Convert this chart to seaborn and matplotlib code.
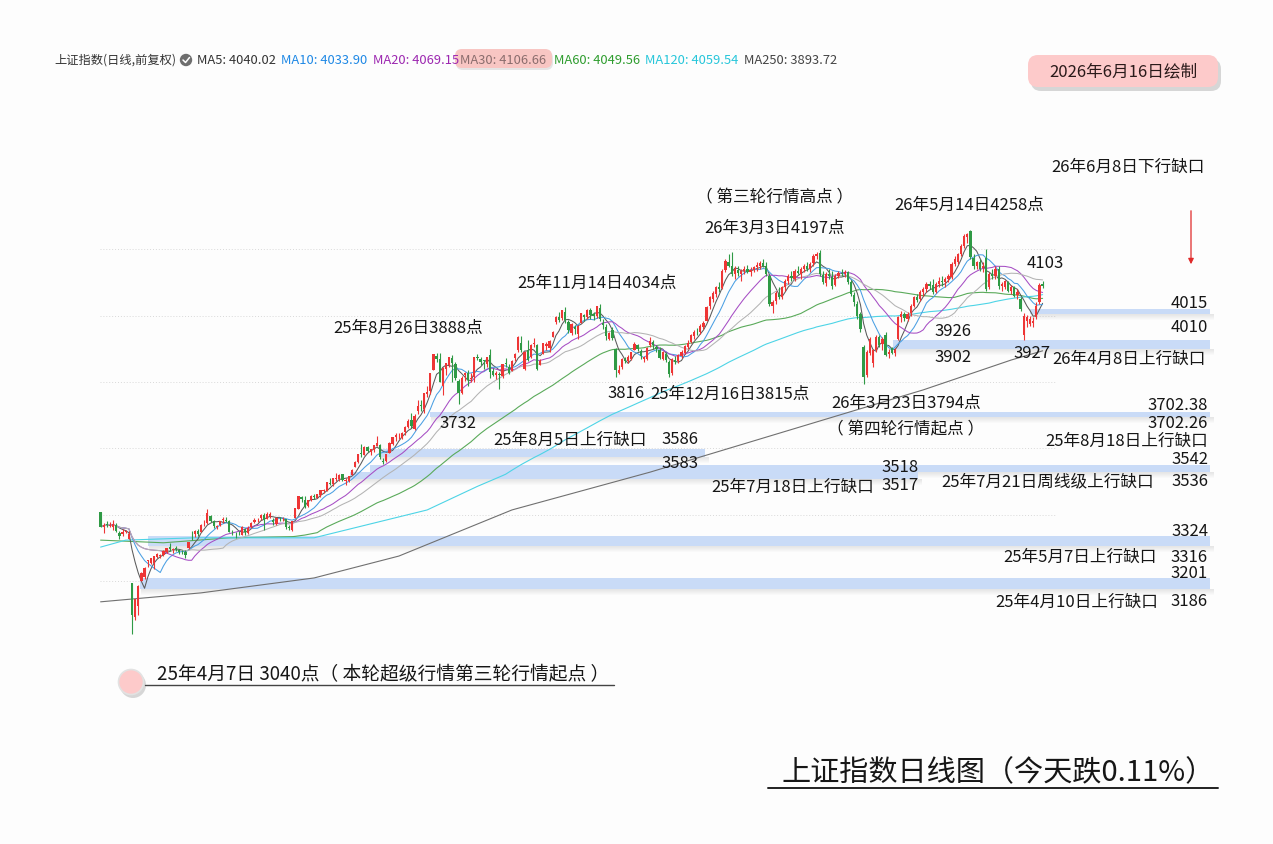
import numpy as np
import pandas as pd
import matplotlib
matplotlib.use("Agg")
import matplotlib.pyplot as plt
import seaborn as sns
from matplotlib.patches import FancyBboxPatch, Rectangle, Circle, FancyArrowPatch
from matplotlib.lines import Line2D
from matplotlib.transforms import Affine2D

# ------------------------------------------------------------------ data
# daily candles, first candle = 2025-03-21 (day -10), day 0 = 2025-04-07, last = 2026-06-16
first_day = -10
opens = [
    3407, 3364, 3372, 3367, 3364, 3370, 3345, 3340, 3347, 3325,
    3193, 3091, 3124, 3201, 3213, 3261, 3254, 3255, 3271, 3276,
    3278, 3286, 3302, 3292, 3298, 3292, 3288, 3287, 3300, 3345,
    3340, 3350, 3348, 3374, 3375, 3397, 3381, 3363, 3369, 3383,
    3385, 3381, 3347, 3342, 3341, 3339, 3357, 3345, 3362, 3377,
    3383, 3390, 3400, 3386, 3397, 3385, 3372, 3388, 3386, 3387,
    3363, 3353, 3390, 3418, 3452, 3444, 3425, 3443, 3456, 3451,
    3459, 3470, 3471, 3496, 3492, 3508, 3506, 3521, 3501, 3500,
    3518, 3542, 3560, 3586, 3581, 3604, 3590, 3596, 3608, 3609,
    3562, 3562, 3586, 3613, 3635, 3634, 3632, 3648, 3664, 3684,
    3657, 3712, 3729, 3718, 3764, 3773, 3835, 3877, 3869, 3787,
    3838, 3850, 3871, 3853, 3803, 3766, 3821, 3827, 3810, 3815,
    3875, 3869, 3866, 3853, 3881, 3832, 3821, 3825, 3817, 3858,
    3846, 3834, 3871, 3897, 3916, 3838, 3897, 3874, 3915, 3912,
    3852, 3883, 3909, 3903, 3935, 3980, 3996, 3993, 4012, 3981,
    3947, 3965, 3945, 3977, 4002, 3995, 4018, 4004, 4000, 4022,
    3979, 3967, 3930, 3957, 3900, 3827, 3844, 3868, 3862, 3870,
    3896, 3910, 3892, 3870, 3870, 3910, 3920, 3905, 3895, 3870,
    3885, 3860, 3826, 3866, 3862, 3878, 3888, 3906, 3920, 3938,
    3948, 3950, 3966, 3985, 4028, 4050, 4066, 4085, 4082, 4138,
    4160, 4150, 4125, 4138, 4125, 4135, 4140, 4130, 4136, 4145,
    4150, 4158, 4148, 4120, 4030, 4045, 4065, 4055, 4085, 4105,
    4118, 4110, 4135, 4125, 4140, 4148, 4140, 4158, 4180, 4190,
    4122, 4098, 4125, 4115, 4092, 4120, 4128, 4125, 4130, 4100,
    4062, 4035, 4005, 3905, 3822, 3888, 3858, 3896, 3935, 3915,
    3940, 3885, 3902, 3886, 3930, 3995, 4005, 3990, 4008, 4030,
    4055, 4050, 4072, 4080, 4095, 4092, 4072, 4095, 4105, 4100,
    4110, 4115, 4155, 4160, 4185, 4210, 4238, 4255, 4175, 4148,
    4160, 4142, 4175, 4085, 4125, 4118, 4140, 4090, 4085, 4100,
    4075, 4085, 4062, 4050, 3940, 3985, 3975, 3978, 3995, 4040, 4095,
]
highs = [
    3409, 3375, 3380, 3378, 3383, 3374, 3350, 3357, 3355, 3352,
    3193, 3146, 3187, 3226, 3242, 3264, 3270, 3276, 3285, 3282,
    3292, 3300, 3315, 3300, 3305, 3296, 3294, 3292, 3316, 3352,
    3354, 3358, 3371, 3384, 3417, 3400, 3385, 3370, 3382, 3392,
    3392, 3385, 3353, 3346, 3350, 3365, 3361, 3365, 3377, 3390,
    3389, 3403, 3404, 3408, 3407, 3391, 3392, 3392, 3393, 3388,
    3369, 3382, 3421, 3455, 3455, 3457, 3444, 3458, 3461, 3463,
    3475, 3476, 3497, 3509, 3511, 3525, 3522, 3522, 3510, 3517,
    3538, 3561, 3582, 3613, 3606, 3607, 3599, 3609, 3636, 3612,
    3571, 3584, 3618, 3634, 3646, 3645, 3648, 3668, 3688, 3705,
    3702, 3746, 3745, 3766, 3787, 3826, 3884, 3888, 3888, 3845,
    3858, 3876, 3880, 3861, 3810, 3818, 3829, 3835, 3828, 3876,
    3884, 3874, 3867, 3876, 3899, 3843, 3832, 3830, 3855, 3873,
    3853, 3866, 3888, 3937, 3937, 3894, 3926, 3914, 3931, 3913,
    3869, 3917, 3919, 3925, 3952, 3999, 4010, 4016, 4025, 3986,
    3977, 3971, 3973, 4009, 4005, 4019, 4022, 4010, 4030, 4034,
    3990, 3975, 3950, 3966, 3902, 3850, 3872, 3875, 3880, 3890,
    3920, 3915, 3898, 3878, 3905, 3936, 3925, 3912, 3905, 3892,
    3890, 3866, 3872, 3878, 3885, 3895, 3912, 3925, 3945, 3955,
    3962, 3975, 3985, 4030, 4060, 4075, 4090, 4100, 4140, 4172,
    4185, 4192, 4150, 4150, 4140, 4148, 4152, 4145, 4150, 4160,
    4165, 4170, 4160, 4125, 4048, 4075, 4085, 4090, 4110, 4125,
    4135, 4140, 4150, 4145, 4155, 4162, 4160, 4185, 4192, 4197,
    4135, 4130, 4140, 4135, 4125, 4135, 4140, 4138, 4135, 4108,
    4070, 4045, 4010, 3910, 3895, 3935, 3900, 3940, 3942, 3935,
    3950, 3900, 3905, 3902, 4000, 4015, 4012, 4010, 4035, 4060,
    4065, 4078, 4085, 4100, 4105, 4110, 4100, 4115, 4120, 4115,
    4125, 4160, 4180, 4190, 4215, 4245, 4250, 4258, 4185, 4165,
    4170, 4160, 4200, 4130, 4140, 4150, 4148, 4100, 4108, 4105,
    4092, 4090, 4080, 4055, 4008, 4002, 3998, 3995, 4040, 4098, 4103,
]
lows = [
    3362, 3343, 3364, 3362, 3355, 3347, 3325, 3336, 3343, 3325,
    3040, 3083, 3098, 3201, 3205, 3243, 3250, 3235, 3270, 3268,
    3275, 3285, 3290, 3285, 3290, 3280, 3282, 3270, 3296, 3324,
    3333, 3336, 3348, 3365, 3371, 3377, 3360, 3356, 3365, 3375,
    3377, 3347, 3339, 3330, 3337, 3338, 3339, 3342, 3360, 3375,
    3377, 3385, 3354, 3386, 3391, 3369, 3370, 3380, 3380, 3357,
    3355, 3350, 3390, 3418, 3437, 3420, 3422, 3440, 3447, 3449,
    3453, 3464, 3471, 3490, 3486, 3501, 3502, 3500, 3488, 3499,
    3518, 3542, 3555, 3575, 3581, 3590, 3581, 3589, 3606, 3567,
    3553, 3558, 3586, 3611, 3622, 3629, 3627, 3639, 3660, 3660,
    3655, 3703, 3713, 3706, 3756, 3763, 3835, 3859, 3800, 3761,
    3822, 3845, 3800, 3806, 3733, 3765, 3802, 3789, 3800, 3800,
    3865, 3850, 3840, 3845, 3812, 3818, 3810, 3779, 3812, 3846,
    3825, 3832, 3862, 3891, 3890, 3835, 3862, 3873, 3905, 3837,
    3852, 3883, 3897, 3890, 3935, 3976, 3981, 3987, 3979, 3948,
    3940, 3945, 3928, 3977, 3985, 3990, 3990, 3987, 3993, 3985,
    3960, 3925, 3925, 3925, 3816, 3825, 3840, 3856, 3856, 3866,
    3895, 3894, 3870, 3860, 3866, 3905, 3900, 3890, 3870, 3866,
    3860, 3815, 3820, 3855, 3858, 3872, 3885, 3900, 3916, 3930,
    3940, 3945, 3960, 3983, 4020, 4040, 4055, 4072, 4080, 4130,
    4145, 4118, 4110, 4120, 4105, 4125, 4128, 4120, 4130, 4135,
    4140, 4145, 4120, 4030, 4008, 4035, 4050, 4050, 4075, 4095,
    4105, 4105, 4125, 4110, 4130, 4135, 4132, 4150, 4170, 4118,
    4095, 4090, 4110, 4080, 4088, 4112, 4118, 4115, 4095, 4060,
    4030, 3990, 3950, 3794, 3815, 3880, 3845, 3890, 3905, 3895,
    3878, 3872, 3885, 3878, 3926, 3980, 3985, 3985, 4000, 4025,
    4040, 4045, 4060, 4070, 4080, 4065, 4068, 4085, 4090, 4085,
    4100, 4110, 4150, 4155, 4180, 4205, 4220, 4170, 4140, 4140,
    4135, 4130, 4075, 4080, 4110, 4110, 4080, 4075, 4080, 4070,
    4065, 4055, 4050, 4015, 3927, 3965, 3968, 3965, 3990, 4035, 4082,
]
closes = [
    3364, 3370, 3370, 3368, 3373, 3351, 3336, 3348, 3350, 3342,
    3097, 3145, 3186, 3223, 3238, 3263, 3268, 3276, 3281, 3277,
    3291, 3300, 3296, 3297, 3295, 3288, 3287, 3279, 3316, 3343,
    3352, 3342, 3370, 3374, 3404, 3380, 3367, 3367, 3381, 3387,
    3380, 3348, 3346, 3340, 3340, 3363, 3347, 3361, 3376, 3384,
    3385, 3399, 3385, 3402, 3403, 3377, 3389, 3387, 3388, 3362,
    3359, 3381, 3420, 3455, 3448, 3424, 3444, 3457, 3454, 3461,
    3473, 3473, 3497, 3493, 3510, 3510, 3520, 3505, 3503, 3517,
    3534, 3560, 3582, 3582, 3605, 3593, 3597, 3609, 3615, 3573,
    3560, 3583, 3617, 3634, 3640, 3635, 3647, 3665, 3683, 3666,
    3697, 3728, 3727, 3766, 3771, 3826, 3884, 3868, 3800, 3843,
    3858, 3876, 3858, 3813, 3766, 3812, 3826, 3807, 3812, 3875,
    3871, 3860, 3862, 3876, 3831, 3820, 3828, 3822, 3854, 3853,
    3828, 3862, 3883, 3934, 3897, 3889, 3865, 3912, 3916, 3839,
    3863, 3917, 3914, 3922, 3950, 3996, 3988, 4016, 3987, 3955,
    3976, 3960, 3969, 4008, 3997, 4018, 4002, 4000, 4029, 3990,
    3972, 3939, 3946, 3931, 3835, 3836, 3870, 3864, 3875, 3889,
    3914, 3898, 3878, 3875, 3902, 3924, 3910, 3900, 3873, 3889,
    3867, 3824, 3868, 3860, 3880, 3890, 3908, 3918, 3940, 3950,
    3946, 3968, 3978, 4025, 4055, 4068, 4085, 4080, 4135, 4165,
    4150, 4125, 4140, 4128, 4135, 4140, 4132, 4138, 4145, 4152,
    4158, 4150, 4125, 4035, 4040, 4068, 4055, 4085, 4105, 4118,
    4112, 4135, 4128, 4140, 4148, 4140, 4155, 4180, 4186, 4125,
    4100, 4125, 4118, 4090, 4120, 4128, 4125, 4130, 4100, 4065,
    4040, 4000, 3958, 3815, 3890, 3928, 3895, 3935, 3912, 3930,
    3882, 3890, 3888, 3895, 3995, 4005, 3992, 4005, 4030, 4055,
    4048, 4072, 4080, 4095, 4090, 4070, 4095, 4105, 4100, 4110,
    4118, 4155, 4172, 4185, 4210, 4240, 4245, 4178, 4148, 4160,
    4140, 4150, 4080, 4125, 4118, 4140, 4090, 4095, 4105, 4075,
    4085, 4060, 4070, 4020, 4000, 3995, 3990, 3985, 4030, 4092, 4088,
]

# early part of the long moving averages (day index, value);
# once enough candles exist, MA60 / MA120 are computed from the closes
ma60_early_days = [-10, 10, 31]
ma60_early_vals = [3323, 3315, 3330]
ma120_early_days = [-10, -2, 20, 58, 94]
ma120_early_vals = [3302, 3323, 3330, 3330, 3414]
ma250_days = [-10, 22, 58, 85, 121, 165, 233, 252, 280, 290]
ma250_vals = [3137, 3164, 3209, 3275, 3414, 3528, 3722, 3776, 3866, 3893.72]
short_ma_windows = [5, 10, 20, 30]
long_ma_windows = [60, 120]

ma_names = ["MA5", "MA10", "MA20", "MA30", "MA60", "MA120", "MA250"]
ma_header_vals = [4040.02, 4033.90, 4069.15, 4106.66, 4049.56, 4059.54, 3893.72]

gap_lo = [4010, 3902, 3702.26, 3583, 3536, 3517, 3316, 3186]
gap_hi = [4015, 3926, 3702.38, 3586, 3542, 3518, 3324, 3201]
grid_levels = [3200, 3400, 3600, 3800, 4000, 4200]

header_title = "上证指数(日线,前复权)"
date_note = "2026年6月16日绘制"
bottom_note = "25年4月7日 3040点（ 本轮超级行情第三轮行情起点 ）"
chart_title = "上证指数日线图（今天跌0.11%）"
labels = [
    "26年6月8日下行缺口", "（ 第三轮行情高点 ）", "26年3月3日4197点", "26年5月14日4258点",
    "4103", "25年11月14日4034点", "25年8月26日3888点", "4015", "4010", "3926", "3902",
    "3927", "26年4月8日上行缺口", "3816", "25年12月16日3815点", "26年3月23日3794点",
    "3702.38", "3702.26", "3732", "（ 第四轮行情起点 ）", "25年8月18日上行缺口",
    "25年8月5日上行缺口", "3586", "3583", "3542", "3518", "3536",
    "25年7月21日周线级上行缺口", "25年7月18日上行缺口", "3517", "3324", "3316",
    "25年5月7日上行缺口", "3201", "3186", "25年4月10日上行缺口",
]

# ------------------------------------------------------------------ layout / style
W, H = 1273, 844
BG = "#fdfdfd"
X0_PX, DX_PX = 132.0, 3.14            # pixel of day 0, pixels per trading day
Y0_PX, P0, PX_PER_PT = 634.0, 3040.0, 0.3317
label_pos = [
    (1128, 167, "center"), (775, 198, "center"), (775, 228, "center"), (969, 205, "center"),
    (1045, 263, "center"), (597, 283, "center"), (408, 328, "center"), (1208, 304, "right"),
    (1208, 327, "right"), (953, 331, "center"), (953, 357, "center"), (1032, 354, "center"),
    (1129, 359, "center"), (626, 394, "center"), (730, 394, "center"), (906, 403, "center"),
    (1208, 405, "right"), (1208, 424, "right"), (458, 424, "center"), (906, 430, "center"),
    (1208, 441, "right"), (570, 440, "center"), (680, 440, "center"), (680, 463, "center"),
    (1208, 459, "right"), (900, 467, "center"), (1208, 482, "right"), (1048, 482, "center"),
    (793, 487, "center"), (900, 486, "center"), (1208, 532, "right"), (1208, 557, "right"),
    (1080, 557, "center"), (1208, 573, "right"), (1208, 602, "right"), (1077, 602, "center"),
]
band_from_px = [1030, 893, 430, 380, 370, 350, 148, 140]
band_to_px = [1210, 1210, 1210, 705, 1210, 918, 1210, 1210]
band_h_px = [5, 9, 5, 8, 7, 7, 10, 11]
line_colors = ["#5a5a5a", "#4a9fe3", "#a64dc4", "#b3b3b3", "#5aaa5a", "#4dd4e6", "#707070"]
header_colors = ["#333333", "#1e88e5", "#9c27b0", "#8a6d6d", "#2e9d2e", "#26c6da", "#444444"]
header_x = [197, 281, 373, 460, 554, 645, 744]
UP, DOWN = "#ee3535", "#2f9a45"

sns.set_theme(style="white")
plt.rcParams["font.family"] = ["Noto Sans CJK SC", "DejaVu Sans"]
plt.rcParams["axes.unicode_minus"] = False

fig = plt.figure(figsize=(W / 100, H / 100), dpi=100, facecolor=BG)
ax = fig.add_axes([0, 0, 1, 1])
ax.set_facecolor(BG)
ax.set_xlim((0 - X0_PX) / DX_PX, (W - X0_PX) / DX_PX)
ax.set_ylim(P0 - (H - Y0_PX) / PX_PER_PT, P0 + Y0_PX / PX_PER_PT)
ax.axis("off")
T = Affine2D().scale(1 / W, -1 / H).translate(0, 1) + fig.transFigure  # pixel coords
px2day = lambda x: (x - X0_PX) / DX_PX
ONE_PX = 1 / PX_PER_PT

n = len(closes)
days = np.arange(n) + first_day
o, h, l, c = (np.array(v, dtype=float) for v in (opens, highs, lows, closes))

# grid
ax.hlines(grid_levels, px2day(100), px2day(1055), colors="#d9d9d9",
          linestyles=(0, (1, 2)), linewidth=0.7, zorder=0)

# gap bands with soft shadow
for lo, hi, x0, x1, hp in zip(gap_lo, gap_hi, band_from_px, band_to_px, band_h_px):
    mid = (lo + hi) / 2
    half = max(hp * ONE_PX / 2, (hi - lo) / 2)
    d0, d1 = px2day(x0), px2day(x1)
    for j in range(6):
        ax.add_patch(Rectangle((d0 + 0.4, mid - half - (j + 1) * ONE_PX), d1 - d0 + 1.0, ONE_PX,
                               facecolor="#8c8c8c", alpha=0.20 * (1 - j / 6), lw=0, zorder=1))
    ax.add_patch(Rectangle((d0, mid - half), d1 - d0, 2 * half, facecolor="#c9dbf7",
                           lw=0, zorder=1.5))

# moving averages
cl = pd.Series(c)
for w, col in zip(short_ma_windows, line_colors[:4]):
    sns.lineplot(x=days, y=cl.rolling(w, min_periods=1).mean().values, ax=ax,
                 color=col, linewidth=0.75, zorder=3, legend=False)
for w, ed, ev, col in zip(long_ma_windows, [ma60_early_days, ma120_early_days],
                          [ma60_early_vals, ma120_early_vals], line_colors[4:6]):
    comp = cl.rolling(w).mean()
    ok = comp.notna().values
    xs = list(ed) + list(days[ok])
    ys = list(ev) + list(comp.values[ok])
    sns.lineplot(x=xs, y=ys, ax=ax, color=col, linewidth=0.8, zorder=2.5, legend=False,
                 sort=False, estimator=None)
sns.lineplot(x=ma250_days, y=ma250_vals, ax=ax, color=line_colors[6], linewidth=0.8,
             zorder=2.5, legend=False)

# candles
up = c >= o
cols = np.where(up, UP, DOWN)
ax.vlines(days, l, h, colors=cols, linewidth=0.8, zorder=4)
ax.bar(days, np.maximum(np.abs(c - o), 1.2), bottom=np.minimum(o, c), width=0.72,
       color=cols, linewidth=0, zorder=4.5)

# ----- annotations (pixel placed)
TXT = "#161616"
for s, (x, y, ha) in zip(labels, label_pos):
    fig.text(x, y, s, transform=T, ha=ha, va="center", fontsize=12, color=TXT, zorder=10)

# red arrow for the down gap
fig.patches.append(FancyArrowPatch((1191, 208), (1191, 267), transform=T, arrowstyle="-|>",
                                   mutation_scale=8, color="#e02a2a", lw=0.9))

# header
fig.text(54, 60, header_title, transform=T, ha="left", va="center", fontsize=8.8, color="#333333")
fig.patches.append(Circle((186, 60), 6.2, transform=T, facecolor="#6e6e6e", edgecolor="none"))
fig.lines.append(Line2D([183, 185.5, 189.5], [60, 62.5, 57.5], transform=T, color="white", lw=1.1))
fig.patches.append(FancyBboxPatch((456, 51), 97, 19, boxstyle="round,pad=0,rounding_size=7",
                                  transform=T, facecolor="#b9b9b9", edgecolor="none", alpha=0.35))
fig.patches.append(FancyBboxPatch((455, 49), 97, 19, boxstyle="round,pad=0,rounding_size=7",
                                  transform=T, facecolor="#f8c6c3", edgecolor="none"))
for name, val, col, x in zip(ma_names, ma_header_vals, header_colors, header_x):
    fig.text(x, 60, f"{name}: {val:.2f}", transform=T, ha="left", va="center",
             fontsize=9.3, color=col)

# date box
fig.patches.append(FancyBboxPatch((1031, 59), 190, 32, boxstyle="round,pad=0,rounding_size=10",
                                  transform=T, facecolor="#a8a8a8", edgecolor="none", alpha=0.45))
fig.patches.append(FancyBboxPatch((1028, 55), 190, 32, boxstyle="round,pad=0,rounding_size=10",
                                  transform=T, facecolor="#fdcaca", edgecolor="none"))
fig.text(1123, 72, date_note, transform=T, ha="center", va="center", fontsize=12, color="#2a1a1a")

# bottom-left note
fig.patches.append(Circle((133, 685), 13, transform=T, facecolor="#bdbdbd", edgecolor="none", alpha=0.6))
fig.patches.append(Circle((131, 682), 12.5, transform=T, facecolor="#fdcaca", edgecolor="#e2e2e2", lw=1.2))
fig.text(157, 675, bottom_note, transform=T, ha="left", va="center", fontsize=13.5, color=TXT)
fig.lines.append(Line2D([145, 614], [685, 685], transform=T, color="#444444", lw=1.0))

# title
fig.text(1215, 773, chart_title, transform=T, ha="right", va="center", fontsize=21, color=TXT)
fig.lines.append(Line2D([768, 1218], [788, 788], transform=T, color="#222222", lw=1.4))

fig.savefig("out.png", dpi=100, facecolor=BG)
